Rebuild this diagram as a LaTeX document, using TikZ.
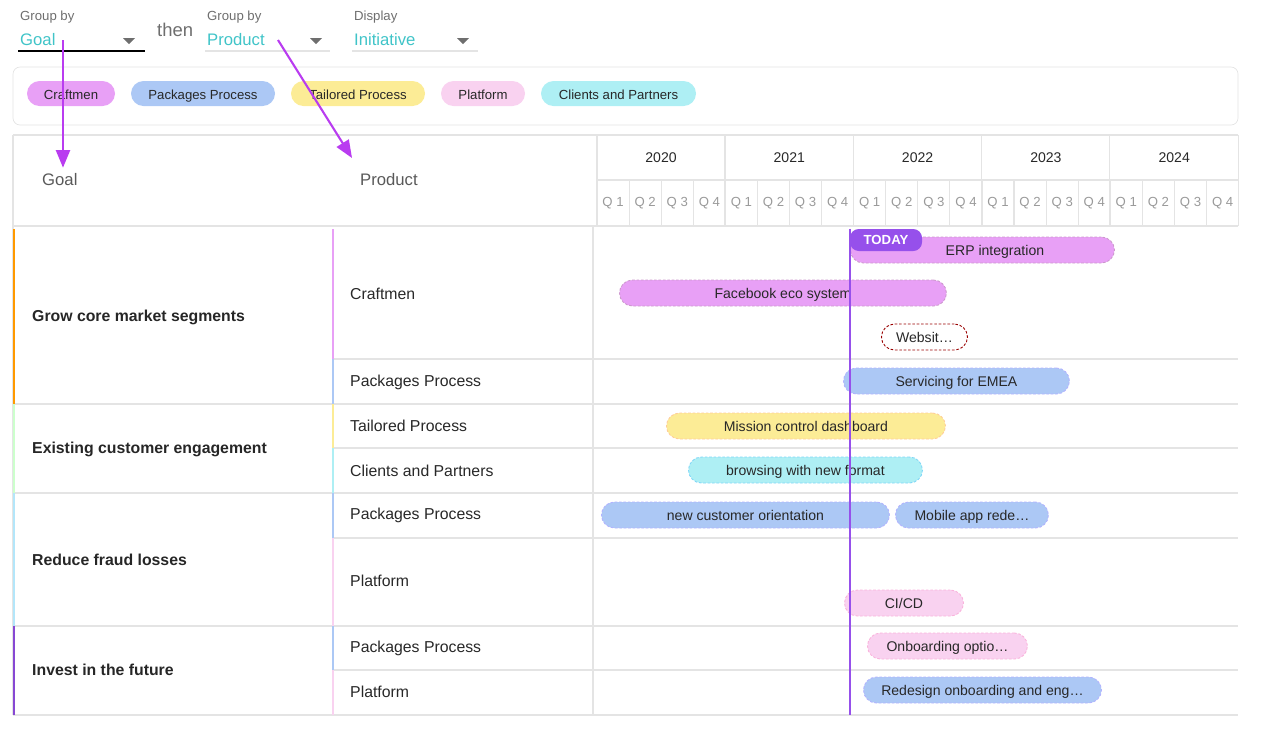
\documentclass[tikz,border=0pt]{standalone}
\usepackage{fontspec}
\setmainfont{Liberation Sans}
\usetikzlibrary{arrows.meta,positioning}
\definecolor{cviolet}{RGB}{232,160,246}
\definecolor{cblue}{RGB}{172,200,245}
\definecolor{cyellow}{RGB}{252,236,150}
\definecolor{cpink}{RGB}{249,210,240}
\definecolor{ccyan}{RGB}{174,239,244}
\definecolor{teal}{RGB}{64,196,200}
\definecolor{arrowpurple}{RGB}{185,60,240}
\definecolor{todaypurple}{RGB}{150,80,235}
\definecolor{gridgray}{RGB}{228,228,228}
\definecolor{txt}{RGB}{40,40,40}
\definecolor{subtxt}{RGB}{110,110,110}
\tikzset{
  chip/.style={rounded corners=12.5*0.02cm, minimum height=25*0.02cm, inner sep=0pt, text height=1.6ex, text depth=0.4ex, font=\fontsize{7.5}{8}\selectfont, text=txt},
  initiative/.style={rounded corners=13*0.02cm, minimum height=26*0.02cm, inner sep=0pt, dash pattern=on 1.5pt off 1pt, line width=0.5pt, text height=1.6ex, text depth=0.4ex, font=\fontsize{8}{9}\selectfont, text=txt},
  goaltext/.style={anchor=west, font=\bfseries\fontsize{9}{10}\selectfont, text=black!85},
  prodtext/.style={anchor=west, font=\fontsize{9}{10}\selectfont, text=txt},
  grid/.style={draw=gridgray, line width=0.6pt},
  small/.style={anchor=west, font=\fontsize{7.5}{8}\selectfont, text=subtxt},
  choice/.style={anchor=west, font=\fontsize{9.5}{10}\selectfont, text=teal},
  pointer/.style={-{Triangle[length=10pt,width=8pt]}, draw=arrowpurple, fill=arrowpurple, line width=1.2pt}
}
% bar from x1 to x2 at height y
\newcommand{\initbar}[6]{\node[initiative, #5, anchor=west, minimum width={(#3-#2)*0.02cm}] (#1) at (#2,#4) {#6};}
\begin{document}
\begin{tikzpicture}[x=0.02cm,y=-0.02cm]
\useasboundingbox (0,0) rectangle (1266,752);
% selectors
\node[small] (gb1) at (14,17) {Group by};
\node[choice] (goalsel) at (14,40) {Goal};
\draw[black, line width=1pt] (18,51) -- (145,51);
\node[small] (gb2) at (201,17) {Group by};
\node[choice] (prodsel) at (201,40) {Product};
\draw[grid] (205,51) -- (330,51);
\node[small] (disp) at (348,17) {Display};
\node[choice] (dispsel) at (348,40) {Initiative};
\draw[grid] (352,51) -- (478,51);
\node[anchor=west, font=\fontsize{10.5}{11}\selectfont, text=subtxt] (then) at (151,30) {then};
\foreach \x in {129,316,463}
  \fill[subtxt] (\x-6,38) -- (\x+6,38) -- (\x,44) -- cycle;
% legend
\draw[gridgray, rounded corners=4pt] (13,67) rectangle (1238,125);
\node[chip, fill=cviolet, minimum width=88*0.02cm] (lcraft) at (71,93.5) {Craftmen};
\node[chip, fill=cblue, minimum width=144*0.02cm] (lpack) at (203,93.5) {Packages Process};
\node[chip, fill=cyellow, minimum width=134*0.02cm] (ltail) at (358,93.5) {Tailored Process};
\node[chip, fill=cpink, minimum width=84*0.02cm] (lplat) at (483,93.5) {Platform};
\node[chip, fill=ccyan, minimum width=155*0.02cm] (lcli) at (618.5,93.5) {Clients and Partners};
% table frame
\draw[grid] (13,135) -- (1238,135);
\draw[grid] (13,135) -- (13,715);
\draw[grid] (597,135) -- (597,226);
\draw[grid] (597,180) -- (1238,180);
\draw[grid] (13,226) -- (1238,226);
\draw[grid] (593,226) -- (593,715);
\foreach \y [count=\i from 0] in {2020,2021,2022,2023,2024}{
  \node[font=\fontsize{8}{9}\selectfont, text=txt] (y\y) at (661+128.3*\i,158) {\y};
  \draw[grid] (725+128.3*\i,135) -- (725+128.3*\i,226);
  \foreach \q in {1,2,3,4}{
    \node[font=\fontsize{7.5}{8}\selectfont, text=subtxt!70] (q\y\q) at (597+128.3*\i+32.1*\q-16,203) {Q \q};
    \draw[grid] (597+128.3*\i+32.1*\q,180) -- (597+128.3*\i+32.1*\q,226);
  }
}
\node[anchor=west, font=\fontsize{9.5}{10}\selectfont, text=black!65] (hgoal) at (36,180) {Goal};
\node[anchor=west, font=\fontsize{9.5}{10}\selectfont, text=black!65] (hprod) at (354,180) {Product};
\draw[pointer] (goalsel.east -| 63,40) -- (hgoal.north -| 63,160);
\draw[pointer] (278,40) -- (352,158);
% rows
\foreach \y in {404,493,626,715} \draw[grid] (13,\y) -- (1238,\y);
\foreach \y in {359,448,538,670} \draw[grid] (332,\y) -- (1238,\y);
\draw[orange!80!yellow, line width=1.2pt] (14,229) -- (14,404);
\draw[green!20, line width=1.2pt] (14,404) -- (14,493);
\draw[cyan!30, line width=1.2pt] (14,493) -- (14,626);
\draw[todaypurple!90!black, line width=1.2pt] (14,626) -- (14,715);
\foreach \a/\b/\c in {229/359/cviolet,359/404/cblue,404/448/cyellow,448/493/ccyan,493/538/cblue,538/626/cpink,626/670/cblue,670/715/cpink}
  \draw[\c, line width=1.2pt] (333,\a) -- (333,\b);
\node[goaltext] (g1) at (26,317) {Grow core market segments};
\node[goaltext] (g2) at (26,449) {Existing customer engagement};
\node[goaltext] (g3) at (26,560) {Reduce fraud losses};
\node[goaltext] (g4) at (26,670) {Invest in the future};
\node[prodtext] (p1) at (344,294) {Craftmen};
\node[prodtext] (p2) at (344,382) {Packages Process};
\node[prodtext] (p3) at (344,426) {Tailored Process};
\node[prodtext] (p4) at (344,471) {Clients and Partners};
\node[prodtext] (p5) at (344,515) {Packages Process};
\node[prodtext] (p6) at (344,581) {Platform};
\node[prodtext] (p7) at (344,648) {Packages Process};
\node[prodtext] (p8) at (344,692) {Platform};
% initiatives
\initbar{erp}{850}{1114}{250}{fill=cviolet, draw=violet!40}{\hspace*{0.5cm}ERP integration}
\initbar{fb}{619}{946}{293}{fill=cviolet, draw=violet!40}{Facebook eco system}
\initbar{web}{881}{967}{337}{fill=white, draw=red!60!black}{Websit…}
\initbar{emea}{843}{1069}{381}{fill=cblue, draw=blue!30}{Servicing for EMEA}
\initbar{mission}{666}{945}{426}{fill=cyellow, draw=orange!40}{Mission control dashboard}
\initbar{browse}{688}{922}{470}{fill=ccyan, draw=cyan!50}{browsing with new format}
\initbar{orient}{601}{889}{515}{fill=cblue, draw=blue!30}{new customer orientation}
\initbar{mobile}{895}{1048}{515}{fill=cblue, draw=blue!30}{Mobile app rede…}
\initbar{cicd}{844}{963}{603}{fill=cpink, draw=magenta!30}{CI/CD}
\initbar{onboard}{867}{1027}{646}{fill=cpink, draw=magenta!30}{Onboarding optio…}
\initbar{redesign}{863}{1101}{690}{fill=cblue, draw=blue!30}{Redesign onboarding and eng…}
% today marker
\draw[todaypurple, line width=1.5pt] (850,229) -- (850,715);
\fill[todaypurple, rounded corners=5pt] (850,229) -- (922,229) -- (922,251) -- (850,251) -- cycle;
\node[font=\bfseries\fontsize{7.5}{8}\selectfont, text=white] (today) at (886,240) {TODAY};
\end{tikzpicture}
\end{document}
